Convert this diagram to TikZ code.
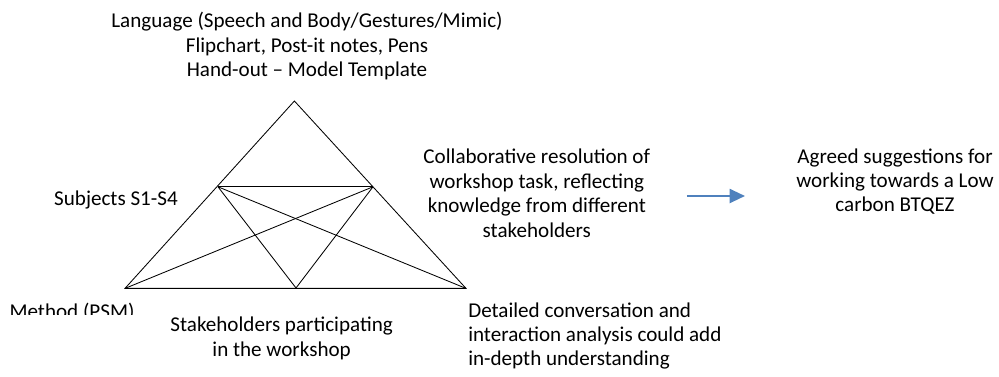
\documentclass[tikz,border=0pt]{standalone}
\usepackage{fontspec}
\setmainfont{Carlito}
\usetikzlibrary{arrows.meta}
\definecolor{arrowblue}{HTML}{4F81BD}
\tikzset{
  lbl/.style={inner sep=0pt,align=center,font=\fontsize{15}{17.4}\selectfont},
  edge/.style={line width=0.6pt,black}
}
\begin{document}
\begin{tikzpicture}[auto]
    \useasboundingbox (0,0) rectangle (24.975,9.4);
    \coordinate (apex) at (7.36,6.875);
    \coordinate (bl) at (3.125,2.19);
    \coordinate (br) at (11.65,2.19);
    \coordinate (il) at (5.45,4.73);
    \coordinate (ir) at (9.325,4.73);
    \coordinate (bm) at (7.4,2.2);
    \draw [edge] (bl) -- (apex) -- (br) -- cycle;
    \draw [edge] (il) -- (ir);
    \draw [edge] (il) -- (bm) -- (ir);
    \draw [edge] (bl) -- (ir);
    \draw [edge] (il) -- (br);
    \node (tools) at (7.675,8.25) [lbl] {Language (Speech and Body/Gestures/Mimic)\\Flipchart, Post-it notes, Pens\\Hand-out -- Model Template};
    \node (subjects) at (2.9,4.4) [lbl] {Subjects S1-S4};
    \begin{scope}
      \clip (0,1.55) rectangle (4,2.1);
      \node (method) at (1.8,1.4375) [lbl,anchor=base] {Method (PSM)};
    \end{scope}
    \node (stake) at (7.04,0.94) [lbl] {Stakeholders participating\\in the workshop};
    \node (collab) at (13.42,4.57) [lbl] {Collaborative resolution of\\workshop task, reflecting\\knowledge from different\\stakeholders};
    \node (detail) at (11.7,1.0) [lbl,anchor=west,align=left] {Detailed conversation and\\interaction analysis could add\\in-depth understanding};
    \node (agreed) at (22.375,4.86) [lbl] {Agreed suggestions for\\working towards a Low\\carbon BTQEZ};
    \coordinate (arrowstart) at (17.17,4.5);
    \coordinate (arrowend) at (18.625,4.5);
    \draw [arrowblue,line width=1.6pt,-{Triangle[length=11pt,width=10pt]}] (arrowstart) -- (arrowend);
  \end{tikzpicture}
\end{document}
